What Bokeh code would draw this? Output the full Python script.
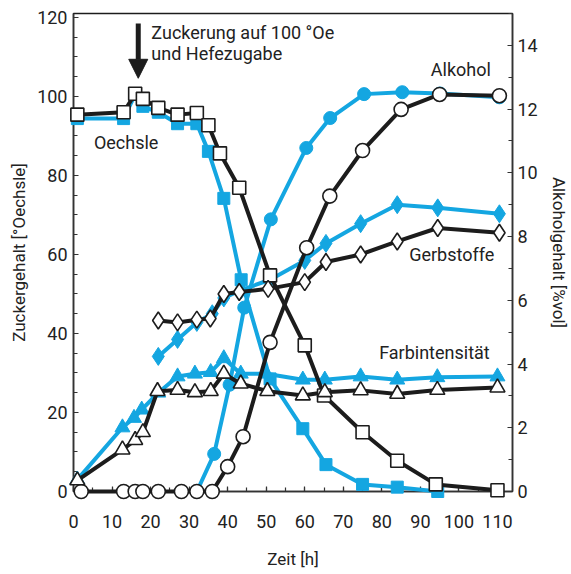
from bokeh.plotting import figure
from bokeh.models import (Range1d, LinearAxis, SingleIntervalTicker, Label, Arrow,
                          NormalHead, ColumnDataSource)
from bokeh.embed import file_html
from bokeh.resources import INLINE

# ---------------- data ----------------
oe_black_t = [1, 13, 16, 18, 22, 27, 32, 35, 38, 43, 51, 60, 65, 75, 84, 94, 110]
oe_black = [95.4, 96.0, 100.7, 99.4, 97.1, 95.4, 95.8, 92.7, 85.6, 76.9, 54.7, 37.0, 24.3, 15.0, 7.8, 1.8, 0.3]

oe_blue_t = [1, 13, 16, 18, 22, 27, 32, 35, 39, 43.5, 51, 59.5, 65.5, 75, 84, 94.5]
oe_blue = [94.4, 94.4, 100.5, 97.5, 96.0, 93.1, 93.1, 86.1, 74.2, 53.6, 28.5, 15.9, 6.8, 1.8, 1.1, 0.0]

alk_black_t = [2, 13, 16, 18, 22, 28, 32, 36, 40, 44, 51, 60.5, 66.5, 75, 85, 95, 110.5]
alk_black = [0, 0, 0, 0, 0, 0, 0, 0, 0.78, 1.72, 4.68, 7.65, 9.27, 10.70, 11.99, 12.46, 12.42]

alk_blue_t = [32, 36.5, 40.5, 44.3, 51.2, 60.4, 66.6, 75.4, 85.3, 95.1, 110.5]
alk_blue = [0, 1.18, 3.35, 5.77, 8.54, 10.78, 11.72, 12.47, 12.53, 12.49, 12.37]

gerb_black_t = [22, 27, 32, 35.5, 39, 43, 50.5, 60, 65.5, 74.5, 84, 94.5, 110.5]
gerb_black = [43.3, 42.8, 43.5, 43.8, 50.0, 50.5, 51.3, 53.0, 58.1, 60.0, 63.3, 66.7, 65.5]

gerb_blue_t = [22, 27, 32, 36, 39, 43.5, 51, 60, 65.5, 74.5, 84, 94.5, 110.5]
gerb_blue = [34.2, 38.5, 42.8, 45.0, 49.0, 51.0, 53.6, 58.5, 62.8, 67.8, 72.6, 71.8, 70.3]

farb_black_t = [1, 12.7, 16, 18, 21.8, 27, 31.5, 35.6, 39, 43.4, 50.3, 59.5, 65.2, 74.5, 84, 94.4, 110]
farb_black = [2.8, 10.6, 13.0, 15.0, 25.4, 25.7, 25.1, 25.4, 29.8, 27.3, 25.4, 24.3, 25.1, 25.6, 24.7, 25.7, 26.3]

farb_blue_t = [1, 12.7, 15.7, 17.7, 22, 27, 31.5, 35.6, 39, 43.4, 50, 59.5, 65.2, 74.5, 84, 94.4, 110]
farb_blue = [3.0, 16.2, 18.6, 20.7, 25.0, 29.1, 29.8, 30.2, 33.7, 29.8, 29.8, 28.3, 28.3, 29.1, 28.3, 28.9, 29.1]

sugar_time = 16.8

# ---------------- style ----------------
BLUE = "#14a6e1"
BLACK = "#1c1c1c"
TXT = "#222222"
FONT = "Roboto"

W, H = 571, 572
p = figure(width=W, height=H, output_backend="svg", toolbar_location=None,
           x_range=Range1d(0, 113.9), y_range=Range1d(0, 121),
           min_border_left=73, min_border_right=W - 512, min_border_top=13,
           min_border_bottom=H - 491)
p.extra_y_ranges = {"alk": Range1d(0, 15)}
p.xgrid.visible = False
p.ygrid.visible = False
p.outline_line_color = BLACK
p.outline_line_width = 1.5
p.outline_line_alpha = 1
p.background_fill_color = "white"
p.border_fill_color = "white"

def style_axis(ax, label, standoff, label_standoff):
    ax.axis_label = label
    ax.axis_label_text_font = FONT
    ax.axis_label_text_font_size = "17px"
    ax.axis_label_text_font_style = "normal"
    ax.axis_label_text_color = TXT
    ax.axis_label_standoff = label_standoff
    ax.major_label_text_font = FONT
    ax.major_label_text_font_size = "18px"
    ax.major_label_text_color = TXT
    ax.major_label_standoff = standoff
    ax.axis_line_color = "#333333"
    ax.axis_line_width = 1.5
    ax.major_tick_in = 5
    ax.major_tick_out = 0
    ax.minor_tick_in = 4
    ax.minor_tick_out = 0
    ax.major_tick_line_color = "#333333"
    ax.minor_tick_line_color = "#333333"
    ax.major_tick_line_width = 1.2
    ax.minor_tick_line_width = 1.2

p.xaxis.ticker = SingleIntervalTicker(interval=10, num_minor_ticks=2)
p.yaxis.ticker = SingleIntervalTicker(interval=20, num_minor_ticks=4)
style_axis(p.xaxis[0], "Zeit [h]", 23, 18)
style_axis(p.yaxis[0], "Zuckergehalt [°Oechsle]", 6, 5)

ax_r = LinearAxis(y_range_name="alk", ticker=SingleIntervalTicker(interval=2, num_minor_ticks=2))
style_axis(ax_r, "Alkoholgehalt [%vol]", 5, 8)
p.add_layout(ax_r, "right")

def series(t, v, color, y_range="default", lw=4):
    src = ColumnDataSource(dict(t=t, v=v))
    r = p.line("t", "v", source=src, line_color=color, line_width=lw, y_range_name=y_range)
    r.level = "overlay"
    return src

def markers(src, color, marker, filled, size, y_range="default"):
    if filled:
        r = p.scatter("t", "v", source=src, marker=marker, size=size, fill_color=color,
                      line_color=color, line_width=1, y_range_name=y_range)
    else:
        r = p.scatter("t", "v", source=src, marker=marker, size=size, fill_color="white",
                      line_color=BLACK, line_width=1.6, y_range_name=y_range)
    r.level = "overlay"

# blue series
s_oe_b = series(oe_blue_t, oe_blue, BLUE)
s_alk_b = series(alk_blue_t, alk_blue, BLUE, "alk")
s_gerb_b = series(gerb_blue_t, gerb_blue, BLUE)
s_farb_b = series(farb_blue_t, farb_blue, BLUE)
markers(s_oe_b, BLUE, "square", True, 12)
markers(s_alk_b, BLUE, "circle", True, 13, "alk")
markers(s_gerb_b, BLUE, "diamond", True, 18)
markers(s_farb_b, BLUE, "triangle", True, 15)

# black series
s_oe_k = series(oe_black_t, oe_black, BLACK)
s_alk_k = series(alk_black_t, alk_black, BLACK, "alk")
s_gerb_k = series(gerb_black_t, gerb_black, BLACK)
s_farb_k = series(farb_black_t, farb_black, BLACK)
markers(s_oe_k, BLACK, "square", False, 13)
markers(s_alk_k, BLACK, "circle", False, 14, "alk")
markers(s_gerb_k, BLACK, "diamond", False, 17)
markers(s_farb_k, BLACK, "triangle", False, 15)

# annotations
p.add_layout(Arrow(end=NormalHead(size=19, fill_color=BLACK, line_color=BLACK, line_width=1),
                   x_start=sugar_time, y_start=118.5, x_end=sugar_time, y_end=104.6,
                   line_color=BLACK, line_width=5))

def label(x, y, text):
    p.add_layout(Label(x=x, y=y, text=text, text_font=FONT, text_font_size="18px",
                       text_color=TXT, text_baseline="middle", text_align="left"))

label(20.2, 116.3, "Zuckerung auf 100 °Oe")
label(20.2, 110.8, "und Hefezugabe")
label(5.3, 88.4, "Oechsle")
label(92.7, 106.8, "Alkohol")
label(87.1, 60.0, "Gerbstoffe")
label(79.3, 35.2, "Farbintensität")

open("out.html", "w").write(file_html(p, INLINE))
